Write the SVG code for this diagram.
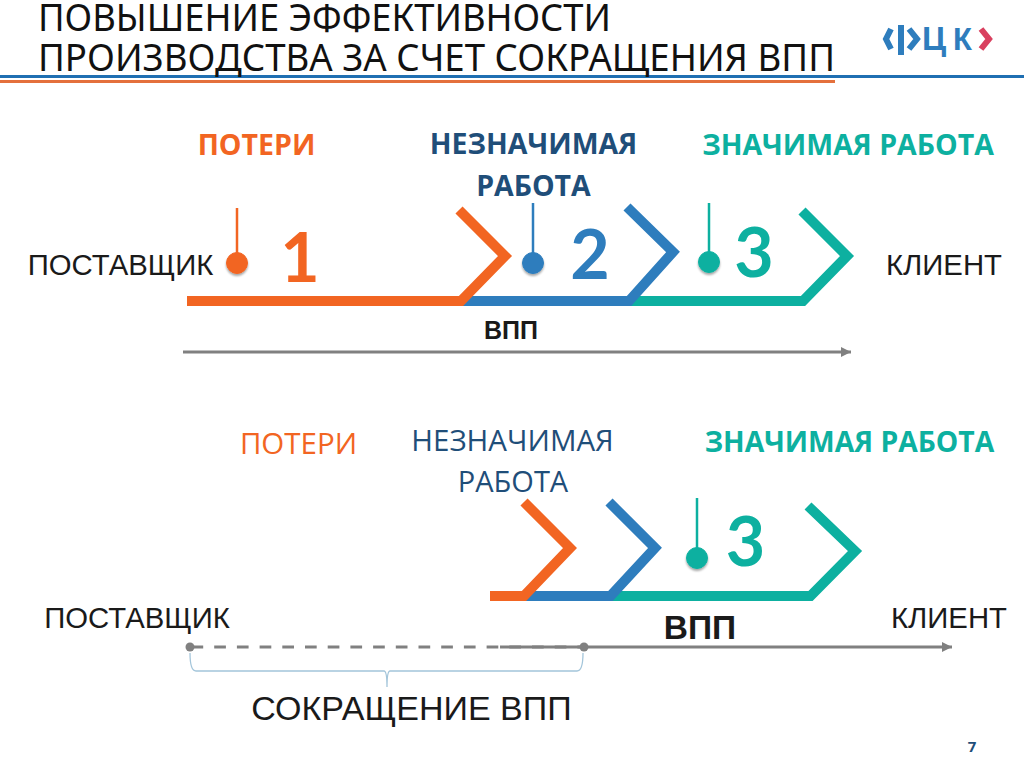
<svg xmlns="http://www.w3.org/2000/svg" width="1024" height="767" viewBox="0 0 1024 767">
<style>
text{font-family:"Liberation Sans",Arial,sans-serif;fill:#1a1a1a}
.o{fill:#f26522;stroke:#f26522}.b{fill:#2e7dbd;stroke:#2e7dbd}.t{fill:#0db0a0;stroke:#0db0a0}
.ch{stroke-width:10;stroke-miterlimit:10}
.ch.o,.ch.b,.ch.t{fill:none}
.pin{stroke-width:2.5;fill:none}
.num{font-family:Lato,"Open Sans",sans-serif;font-weight:700;font-size:68px;text-anchor:middle}
.hd{font-family:"Open Sans","Noto Sans",sans-serif;font-size:28.5px;font-weight:700;text-anchor:middle}
.lt{font-weight:400;font-size:29.5px}
.lb{font-size:29.3px;text-anchor:middle}
.ttl{font-family:"Noto Sans",sans-serif;font-size:37.5px;fill:#111}
.ar{stroke:#808080;stroke-width:2.8;fill:none}
.logo{font-family:"Liberation Sans",sans-serif;font-weight:700;fill:#2e7dbd}
.lg{fill:none;stroke-width:6}
</style>
<defs>
<marker id="ah" markerUnits="userSpaceOnUse" markerWidth="11" markerHeight="12" refX="10" refY="6" orient="auto"><path d="M0 1L10 6L0 11Z" fill="#808080"/></marker>
<filter id="sh" x="-40%" y="-40%" width="180%" height="200%"><feDropShadow dx="0" dy="2" stdDeviation="1.2" flood-color="#000" flood-opacity=".35"/></filter>
</defs>
<g id="title">
<rect x="0" y="75" width="1024" height="3" fill="#1f6fb2"/>
<rect x="0" y="80" width="835" height="3" fill="#e4703c"/>
<text class="ttl" x="38" y="31" textLength="573" lengthAdjust="spacingAndGlyphs">ПОВЫШЕНИЕ ЭФФЕКТИВНОСТИ</text>
<text class="ttl" x="38" y="71" textLength="797" lengthAdjust="spacingAndGlyphs">ПРОИЗВОДСТВА ЗА СЧЕТ СОКРАЩЕНИЯ ВПП</text>
</g>
<g id="logo">
<path class="lg" d="M891 29L886 39L891 49" stroke="#2e7dbd"/>
<rect x="898" y="25" width="6" height="30" fill="#2e7dbd"/>
<path class="lg" d="M909 29L917 39L909 49" stroke="#2e7dbd"/>
<text class="logo" x="922" y="50" font-size="33">Ц</text>
<text class="logo" x="953" y="50" font-size="31">К</text>
<path class="lg" d="M981 29L989 39L981 49" stroke="#d9405f"/>
</g>
<g id="connectors">
<path class="ar" d="M183 352L851 352" marker-end="url(#ah)"/>
<path class="ar" d="M190 647L584 647" stroke-dasharray="11.7 11" stroke-dashoffset="-1.5" style="stroke-width:3"/>
<path class="ar" d="M500 647L584 647" style="stroke-width:3"/>
<path class="ar" d="M584 647L952 647" marker-end="url(#ah)"/>
<path d="M190 653Q190 671 196 671L384 671Q387 671 387 687Q387 671 390 671L577 671Q583 671 583 653" fill="none" stroke="#a3c5da" stroke-width="1.3"/>
</g>
<g id="flow1">
<path class="ch t" d="M630 301H803L847 256L802 211"/>
<path class="ch b" d="M462 301H629L673 252L627 207"/>
<path class="ch o" d="M187 301H461L505 256L459 210"/>
</g>
<g id="flow2">
<path class="ch t" d="M608 596H810.500L855 551L808 506"/>
<path class="ch b" d="M525 596H610.500L655 548L609 502"/>
<path class="ch o" d="M490 596H524L570 548L524 502"/>
</g>
<g id="pin1"><path class="pin o" d="M237 208V263"/><circle class="o" cx="237" cy="263" r="10.500" stroke="none" filter="url(#sh)"/><text class="num" x="300" y="282" style="fill:#f26522">1</text></g>
<g id="pin2"><path class="pin b" d="M533 203V263"/><circle class="b" cx="533" cy="263" r="10.500" stroke="none" filter="url(#sh)"/><text class="num" x="590" y="279" style="fill:#2e7dbd">2</text></g>
<g id="pin3"><path class="pin t" d="M709 203V262"/><circle class="t" cx="709" cy="262" r="10.500" stroke="none" filter="url(#sh)"/><text class="num" x="754" y="277" style="fill:#0db0a0">3</text></g>
<g id="pin4"><path class="pin t" d="M697 498V558"/><circle class="t" cx="697" cy="558" r="10.500" stroke="none" filter="url(#sh)"/><text class="num" x="745.500" y="566" style="fill:#0db0a0">3</text></g>
<g id="labels1">
<text class="hd" x="256.500" y="155" style="fill:#f26522">ПОТЕРИ</text>
<text class="hd" x="533.500" y="154" style="fill:#1f4e79">НЕЗНАЧИМАЯ</text>
<text class="hd" x="533.500" y="196" style="fill:#1f4e79">РАБОТА</text>
<text class="hd" x="848" y="155" style="fill:#0db0a0">ЗНАЧИМАЯ РАБОТА</text>
<text class="lb" x="120.500" y="275">ПОСТАВЩИК</text>
<text class="lb" x="944" y="275">КЛИЕНТ</text>
<text x="511" y="339" font-size="25" font-weight="700" text-anchor="middle">ВПП</text>
</g>
<g id="labels2">
<text class="hd lt" x="298.500" y="454" style="fill:#f26522">ПОТЕРИ</text>
<text class="hd lt" x="512.500" y="451" style="fill:#1f4e79">НЕЗНАЧИМАЯ</text>
<text class="hd lt" x="513" y="492" style="fill:#1f4e79;font-size:29px">РАБОТА</text>
<text class="hd" x="849.500" y="452" style="fill:#0db0a0;font-size:28.300px">ЗНАЧИМАЯ РАБОТА</text>
<text class="lb" x="137" y="628">ПОСТАВЩИК</text>
<text class="lb" x="949" y="628">КЛИЕНТ</text>
<text x="700" y="638.500" font-size="33.500" font-weight="700" text-anchor="middle">ВПП</text>
<text x="411.500" y="720" font-size="34" text-anchor="middle">СОКРАЩЕНИЕ ВПП</text>
</g>
<g id="dots">
<circle cx="190" cy="647" r="4.500" fill="#808080"/>
<circle cx="584" cy="647" r="4.500" fill="#808080"/>
</g>
<text x="972" y="752" font-size="15" font-weight="700" style="fill:#1f4e79;font-family:'Open Sans',sans-serif" text-anchor="middle">7</text>
</svg>
